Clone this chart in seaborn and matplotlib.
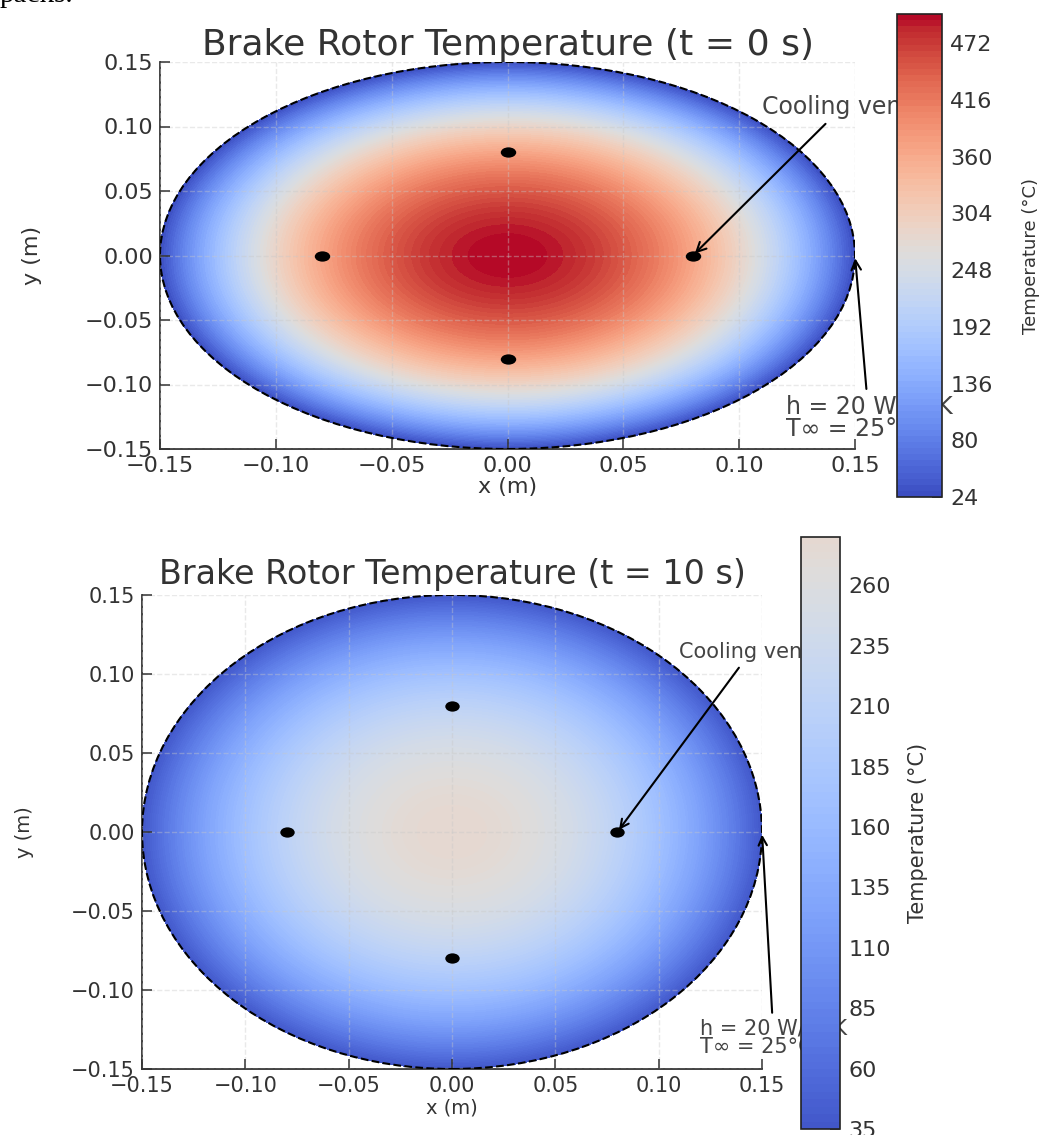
import numpy as np
import matplotlib
matplotlib.use("Agg")
import matplotlib.pyplot as plt
import seaborn as sns
import pandas as pd
from matplotlib.markers import MarkerStyle
from matplotlib.transforms import Affine2D
from matplotlib.colors import Normalize
from matplotlib.patches import Circle

# ---------------- data ----------------
rotor_radius = 0.15
vent_x = [0.08, -0.08, 0.0, 0.0]
vent_y = [0.0, 0.0, 0.08, -0.08]
times = [0, 10]
temp_min = [24, 35]      # rotor edge temperature (°C)
temp_max = [501, 280]    # rotor centre temperature (°C)
cbar_ticks_t0 = [24, 80, 136, 192, 248, 304, 360, 416, 472]
cbar_ticks_t10 = [35, 60, 85, 110, 135, 160, 185, 210, 235, 260]
axis_ticks = [-0.15, -0.10, -0.05, 0.00, 0.05, 0.10, 0.15]
vent_label = "Cooling vents"
bc_label = "h = 20 W/m²K\nT∞ = 25°C"
top_text = "packs."

# ---------------- style ----------------
sns.set_theme(style="ticks")
plt.rcParams["font.family"] = ["DejaVu Sans"]
plt.rcParams["xtick.direction"] = "in"
plt.rcParams["ytick.direction"] = "in"

W, H = 1051, 1135
fig = plt.figure(figsize=(W / 100, H / 100), dpi=100)


def px_rect(l, t, r, b):
    return [l / W, 1 - b / H, (r - l) / W, (b - t) / H]


# polar mesh of the rotor disk
r = np.linspace(0, rotor_radius, 220)
th = np.linspace(0, 2 * np.pi, 361)
RR, TH = np.meshgrid(r, th)
X = RR * np.cos(TH)
Y = RR * np.sin(TH)
norm = Normalize(vmin=temp_min[0], vmax=temp_max[0])
vents = pd.DataFrame({"x": vent_x, "y": vent_y})

panels = [
    dict(ax=px_rect(160, 62, 855, 449), cax=px_rect(897, 14, 942, 497),
         ticks=cbar_ticks_t0, fs_title=26, fs_tick=16, fs_lab=16, fs_ann=17,
         fs_cb=13, xlab_y=-0.072, ylab_x=-0.17, cb_lab_x=2.78, vscale=1.5,
         title_pad=5),
    dict(ax=px_rect(142, 595, 762, 1069), cax=px_rect(801, 537, 840, 1129),
         ticks=cbar_ticks_t10, fs_title=24, fs_tick=15, fs_lab=14, fs_ann=15,
         fs_cb=15, xlab_y=-0.063, ylab_x=-0.175, cb_lab_x=2.75, vscale=1.4,
         title_pad=8),
]

for i, p in enumerate(panels):
    ax = fig.add_axes(p["ax"])
    T = temp_min[i] + (temp_max[i] - temp_min[i]) * (1 - (RR / rotor_radius) ** 2)
    levels = np.linspace(temp_min[i], temp_max[i], 80)
    cs = ax.contourf(X, Y, T, levels=levels, cmap="coolwarm", norm=norm, zorder=1)

    ax.add_patch(Circle((0, 0), rotor_radius, fill=False, ls="--", lw=1.5,
                        ec="black", zorder=3))
    mk = MarkerStyle("o", transform=Affine2D().scale(p["vscale"], 1.0))
    sns.scatterplot(data=vents, x="x", y="y", ax=ax, marker=mk, s=55,
                    color="black", edgecolor="black", linewidth=0, zorder=4)

    ax.set_xlim(-rotor_radius, rotor_radius)
    ax.set_ylim(-rotor_radius, rotor_radius)
    ax.set_xticks(axis_ticks)
    ax.set_yticks(axis_ticks)
    ax.set_axisbelow(False)
    ax.grid(True, color="#c8c8c8", alpha=0.4, lw=1.0, ls="--", zorder=2)
    sns.despine(ax=ax)
    for s in ["left", "bottom"]:
        ax.spines[s].set_linewidth(1.3)
        ax.spines[s].set_color("#333333")
    ax.tick_params(axis="both", direction="in", length=7, width=1.1,
                   labelsize=p["fs_tick"], colors="#333333", pad=5)
    ax.set_title(f"Brake Rotor Temperature (t = {times[i]} s)",
                 fontsize=p["fs_title"], pad=p["title_pad"], color="#333333")
    ax.set_xlabel("x (m)", fontsize=p["fs_lab"], color="#333333")
    ax.set_ylabel("y (m)", fontsize=p["fs_lab"], color="#333333")
    ax.xaxis.set_label_coords(0.5, p["xlab_y"])
    ax.yaxis.set_label_coords(p["ylab_x"], 0.5)

    arrow = dict(arrowstyle="->", color="black", lw=1.5)
    ax.annotate(vent_label, xy=(vent_x[0], vent_y[0]), xytext=(0.11, 0.11),
                fontsize=p["fs_ann"], color="#444444", arrowprops=arrow,
                zorder=5)
    ax.annotate(bc_label, xy=(rotor_radius, 0), xytext=(0.12, -0.14),
                fontsize=p["fs_ann"], color="#444444", arrowprops=arrow,
                linespacing=0.9, zorder=5)

    cax = fig.add_axes(p["cax"])
    cb = fig.colorbar(cs, cax=cax)
    cb.set_ticks(p["ticks"])
    cb.ax.set_yticklabels([str(t) for t in p["ticks"]])
    cb.ax.tick_params(direction="in", length=7, width=1.1,
                      labelsize=16, colors="#333333", pad=6)
    cb.outline.set_edgecolor("#222222")
    cb.outline.set_linewidth(1.2)
    cb.set_label("Temperature (°C)", fontsize=p["fs_cb"], color="#333333")
    cb.ax.yaxis.set_label_coords(p["cb_lab_x"], 0.5)

fig.text(0.0, 1 - 2 / H, top_text, fontsize=21, family="Liberation Serif",
         va="baseline", ha="left", color="black")

fig.savefig("out.png", dpi=100)
